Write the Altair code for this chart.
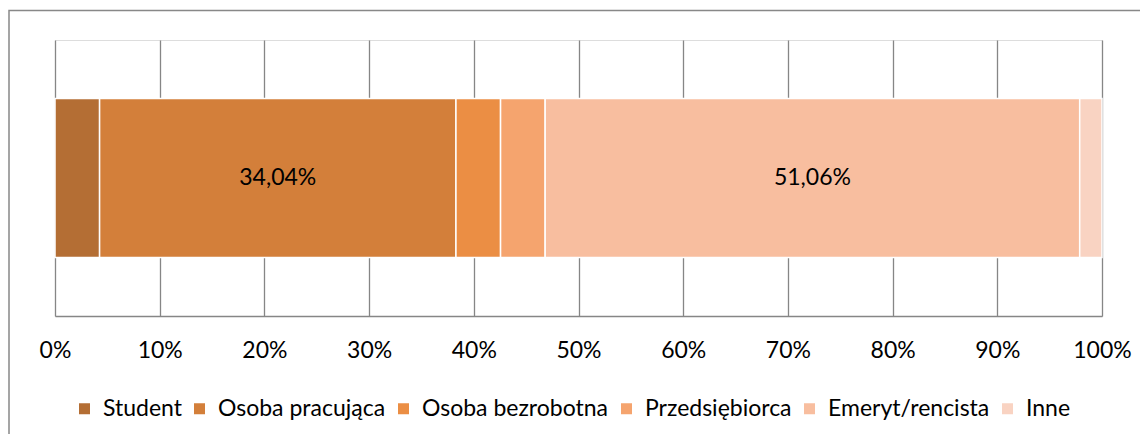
import altair as alt
import pandas as pd

categories = ["Student", "Osoba pracująca", "Osoba bezrobotna", "Przedsiębiorca", "Emeryt/rencista", "Inne"]
values = [4.26, 34.04, 4.26, 4.26, 51.06, 2.13]
colors = ["#B46E34", "#D37F3A", "#EB8E44", "#F5A46E", "#F8BE9F", "#F9D3C2"]
tick_values = [0, 0.1, 0.2, 0.3, 0.4, 0.5, 0.6, 0.7, 0.8, 0.9, 1.0]

df = pd.DataFrame({
    "kategoria": categories,
    "wartosc": values,
    "kolejnosc": list(range(len(categories))),
    "seria": ["A"] * len(categories),
})

FONT = "Lato"
W, H = 1047, 276

base = alt.Chart(df)

bars = base.mark_bar(stroke="white", strokeWidth=1.5).encode(
    x=alt.X("wartosc:Q", stack="normalize",
            scale=alt.Scale(domain=[0, 1], nice=False),
            axis=alt.Axis(values=tick_values, format=".0%", title=None, grid=True,
                          gridColor="#868686", gridWidth=1.3, ticks=False,
                          domain=True, domainColor="#868686", domainWidth=1.3,
                          labelFont=FONT, labelFontSize=23, labelColor="#000000",
                          labelPadding=23, labelFlush=False)),
    y=alt.Y("seria:N", axis=None,
            scale=alt.Scale(paddingInner=0, paddingOuter=0.368)),
    color=alt.Color("kategoria:N",
                    scale=alt.Scale(domain=categories, range=colors),
                    legend=alt.Legend(title=None, orient="none", direction="horizontal",
                                      legendX=18, legendY=357, columns=6, padding=0,
                                      symbolType="square", symbolSize=121,
                                      symbolStrokeWidth=0, labelFont=FONT,
                                      labelFontSize=23, labelColor="#000000",
                                      labelOffset=7, columnPadding=6,
                                      labelLimit=400)),
    order=alt.Order("kolejnosc:Q"),
)

labels = base.transform_window(
    cum="sum(wartosc)", sort=[alt.SortField("kolejnosc")]
).transform_joinaggregate(
    total="sum(wartosc)"
).transform_calculate(
    mid="(datum.cum - datum.wartosc / 2) / datum.total",
    etykieta="replace(format(datum.wartosc, '.2f'), '.', ',') + '%'",
).transform_filter(
    "datum.wartosc > 10"
).mark_text(font=FONT, fontSize=23, color="#000000", baseline="middle").encode(
    x=alt.X("mid:Q"),
    y=alt.Y("seria:N"),
    text="etykieta:N",
)

frame = alt.Chart(alt.Data(values=[{"f": 1}])).mark_rect(
    fill=None, stroke="#888888", strokeWidth=1.5
).encode(
    x=alt.value(-46), x2=alt.value(1300), y=alt.value(-29.5), y2=alt.value(600)
)

chart = alt.layer(frame, bars, labels).properties(
    width=W, height=H,
    autosize=alt.AutoSizeParams(type="none"),
    padding={"left": 47, "top": 32, "right": 38, "bottom": 118},
).configure_view(stroke=None).configure(background="white")

chart.save("out.html", embed_options={"renderer": "svg", "actions": False})
